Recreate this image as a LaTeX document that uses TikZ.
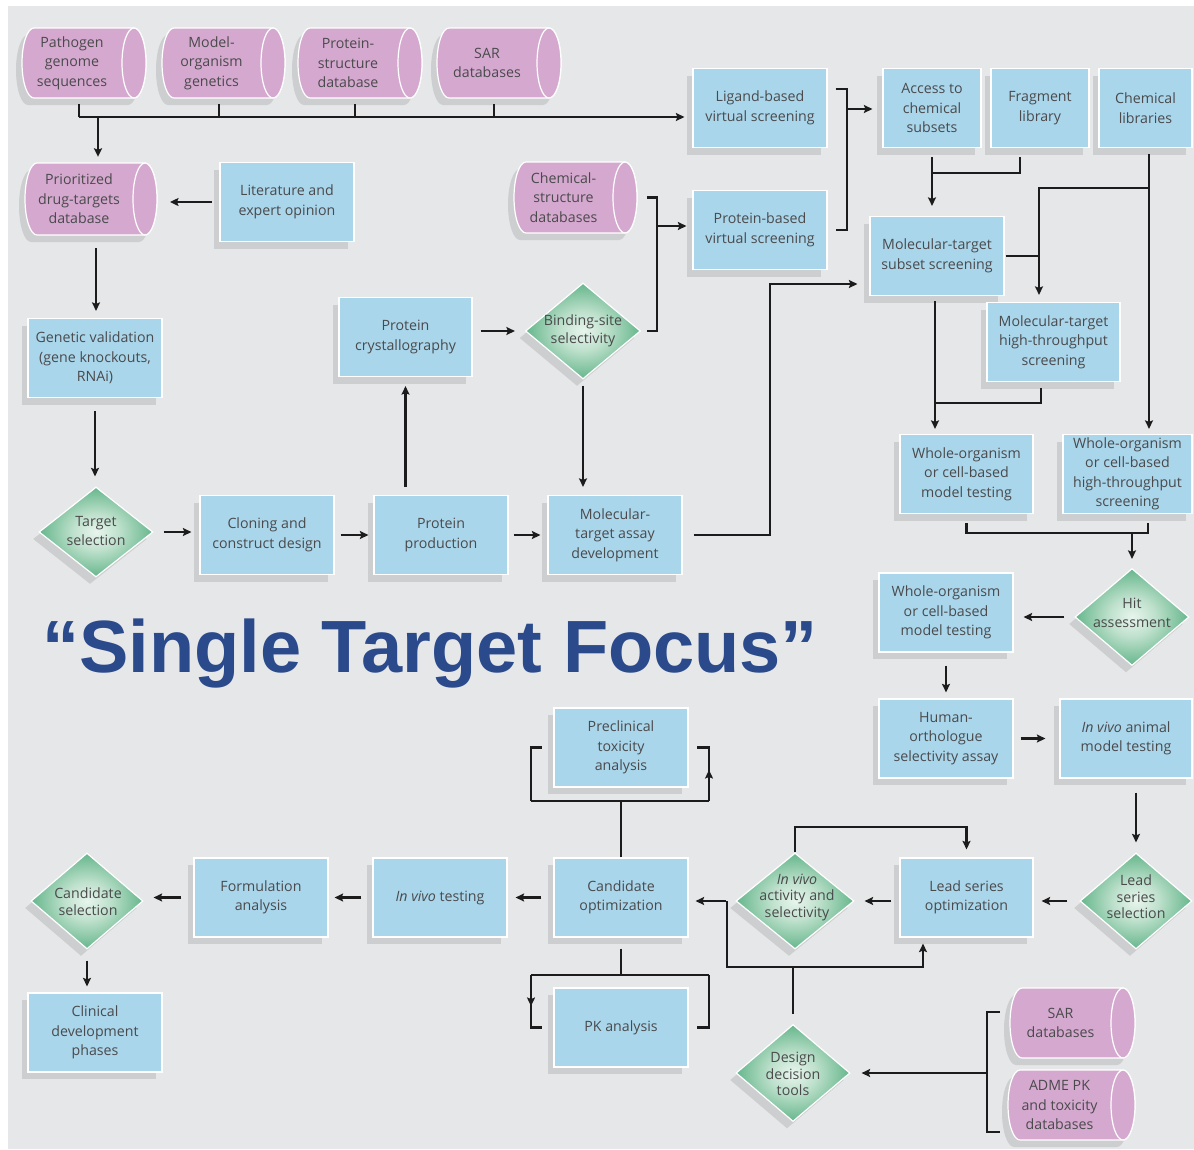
\documentclass[tikz,border=0pt]{standalone}
\usepackage{fontspec}
\setmainfont{Open Sans}
\newfontfamily\titlefont{Liberation Sans}
\usetikzlibrary{shapes.geometric,arrows.meta,shadows,calc}
\definecolor{bgc}{HTML}{E6E7E9}
\definecolor{boxc}{HTML}{AAD6EB}
\definecolor{cylc}{HTML}{D5A9CF}
\definecolor{shc}{HTML}{CDCED0}
\definecolor{txtc}{HTML}{4A4A4C}
\definecolor{linec}{HTML}{1C1C1C}
\definecolor{titlec}{HTML}{2A4A8C}
\definecolor{dg0}{HTML}{E8F5ED}
\definecolor{dg1}{HTML}{BFE1CD}
\definecolor{dg2}{HTML}{2A9A60}
\definecolor{dg3}{HTML}{1D8F55}
\pgfdeclareradialshading{diashade}{\pgfpoint{0bp}{0bp}}{color(0bp)=(dg0); color(10bp)=(dg1); color(35bp)=(dg2); color(50bp)=(dg3)}
\newcommand{\boxfont}{\fontsize{14.2}{19.5}\selectfont}
\newcommand{\difont}{\fontsize{14.2}{18.5}\selectfont}
\newcommand{\difontb}{\fontsize{14.2}{16.5}\selectfont}
\newcommand{\dbcyl}[6]{%
  \pgfmathsetmacro{\ca}{#2+12}%
  \pgfmathsetmacro{\cb}{#4-12}%
  \pgfmathsetmacro{\cyc}{(#3+#5)/2}%
  \pgfmathsetmacro{\cry}{(#5-#3)/2}%
  \pgfmathsetmacro{\cw}{#4-#2-24}%
  \pgfmathsetmacro{\cmid}{(#2+#4)/2-12}%
  \pgfmathsetmacro{\ch}{#5-#3}%
  \pgfmathsetmacro{\cs}{#2+57}%
  \begin{scope}[shift={(-6,7)}]
    \fill[shc] (\ca,#3) -- (\cb,#3) arc[start angle=-90,end angle=90,x radius=12,y radius=\cry] -- (\ca,#5) arc[start angle=90,end angle=270,x radius=12,y radius=\cry] -- cycle;
  \end{scope}
  \path[cylfill] (\ca,#3) -- (\cb,#3) arc[start angle=-90,end angle=90,x radius=12,y radius=\cry] -- (\ca,#5) arc[start angle=90,end angle=270,x radius=12,y radius=\cry] -- cycle;
  \path[cylfill] (\cb,\cyc) ellipse[x radius=12,y radius=\cry];
  \node[cyltext, minimum width=\cw, minimum height=\ch] (#1) at (\cmid,\cyc) {#6};
  \coordinate (#1-e) at (#4,\cyc);
  \coordinate (#1-w) at (#2,\cyc);
  \coordinate (#1-s) at (\cs,#5);
}
\begin{document}
\begin{tikzpicture}[x=1pt,y=-1pt,
  ln/.style={draw=linec, line width=2.2pt},
  arr/.style={ln, -{Stealth[length=8.5pt,width=8pt,inset=1.5pt]}},
  box/.style={rectangle, fill=boxc, draw=white, line width=1.2pt, minimum width=134pt, minimum height=79pt, inner sep=1pt, align=center, text=txtc, font=\boxfont, general shadow={fill=shc, shadow xshift=-6pt, shadow yshift=-7pt}},
  dia/.style={diamond, minimum width=114pt, minimum height=96pt, inner sep=0pt, draw=white, line width=1.2pt, shading=diashade, general shadow={fill=shc, shadow xshift=-6pt, shadow yshift=-7pt}},
  dtxt/.style={align=center, text=txtc, font=\difont, inner sep=0pt},
  cylfill/.style={fill=cylc, draw=white, line width=1.2pt},
  cyltext/.style={align=center, text=txtc, font=\boxfont, inner sep=0pt}]
\useasboundingbox (0,0) rectangle (1194,1149);
\fill[bgc] (8,6) rectangle (1194,1149);

% databases (cylinders)
\dbcyl{pathogen}{22}{28}{146}{98}{Pathogen\\genome\\sequences}
\dbcyl{model}{162}{28}{285}{98}{Model-\\organism\\genetics}
\dbcyl{pstruct}{298}{28}{422}{98}{Protein-\\structure\\database}
\dbcyl{sar1}{437}{28}{561}{98}{SAR\\databases}
\dbcyl{prior}{25}{163}{157}{235}{Prioritized\\drug-targets\\database}
\dbcyl{chemstruct}{514}{162}{637}{233}{Chemical-\\structure\\databases}
\dbcyl{sar2}{1010}{988}{1135}{1058}{SAR\\databases}
\dbcyl{adme}{1008}{1070}{1135}{1140}{ADME PK\\and toxicity\\databases}

% boxes
\node[box] (lit) at (287,202) {Literature and\\expert opinion};
\node[box] (genval) at (95,358) {Genetic validation\\(gene knockouts,\\RNAi)};
\node[box] (clon) at (267,535) {Cloning and\\construct design};
\node[box] (prod) at (441,535) {Protein\\production};
\node[box] (assay) at (615,535) {Molecular-\\target assay\\development};
\node[box, minimum width=133pt] (cryst) at (405.5,337) {Protein\\crystallography};
\node[box] (ligand) at (760,108) {Ligand-based\\virtual screening};
\node[box] (protvs) at (760,230) {Protein-based\\virtual screening};
\node[box, minimum width=98pt] (access) at (932,108) {Access to\\chemical\\subsets};
\node[box, minimum width=98pt] (frag) at (1040,108) {Fragment\\library};
\node[box, minimum width=93pt] (chemlib) at (1145.5,108) {Chemical\\libraries};
\node[box] (subset) at (937,256) {Molecular-target\\subset screening};
\node[box, minimum width=133pt] (mthts) at (1053.5,342) {Molecular-target\\high-throughput\\screening};
\node[box, minimum width=133pt] (wo1) at (966.5,474) {Whole-organism\\or cell-based\\model testing};
\node[box, minimum width=129pt] (wohts) at (1127.5,474) {Whole-organism\\or cell-based\\high-throughput\\screening};
\node[box] (wo2) at (946,612.5) {Whole-organism\\or cell-based\\model testing};
\node[box] (human) at (946,738.5) {Human-\\orthologue\\selectivity assay};
\node[box, minimum width=132pt] (ivanimal) at (1126,738.5) {\textit{In vivo} animal\\model testing};
\node[box, minimum width=133pt] (leadopt) at (966.5,897.5) {Lead series\\optimization};
\node[box] (candopt) at (621,897.5) {Candidate\\optimization};
\node[box] (precl) at (621,747.5) {Preclinical\\toxicity\\analysis};
\node[box] (pk) at (621,1027.5) {PK analysis};
\node[box] (ivtest) at (440,897.5) {\textit{In vivo} testing};
\node[box] (form) at (261,897.5) {Formulation\\analysis};
\node[box] (clin) at (95,1032.5) {Clinical\\development\\phases};

% diamonds
\node[dia, minimum width=114pt, minimum height=90pt] (tsel) at (96,532) {};
\node[dtxt] (tsel-t) at (96,531) {Target\\selection};
\node[dia, minimum width=115pt] (bind) at (583,331) {};
\node[dtxt] (bind-t) at (583,331) {Binding-site\\selectivity};
\node[dia, minimum height=97pt] (hit) at (1132,617) {};
\node[dtxt] (hit-t) at (1132,613) {Hit\\assessment};
\node[dia, minimum width=112pt] (leadsel) at (1136,901) {};
\node[dtxt, font=\difontb] (leadsel-t) at (1136,897) {Lead\\series\\selection};
\node[dia, minimum width=118pt] (ivact) at (795,901) {};
\node[dtxt, font=\difontb] (ivact-t) at (797,897) {\textit{In vivo}\\activity and\\selectivity};
\node[dia, minimum height=97pt] (design) at (793,1073) {};
\node[dtxt, font=\difontb] (design-t) at (793,1074) {Design\\decision\\tools};
\node[dia, minimum width=112pt] (candsel) at (87,901) {};
\node[dtxt, font=\fontsize{14.2}{17}\selectfont] (candsel-t) at (88,902) {Candidate\\selection};

% title
\node[anchor=base west, font=\titlefont\bfseries\fontsize{74}{80}\selectfont, text=titlec, inner sep=0pt] (title) at (42,672) {“Single Target Focus”};

% ---- connectors ----
\coordinate (bus) at (0,117);
\foreach \c in {pathogen,model,pstruct,sar1} \draw[ln] ([yshift=-6pt]\c-s) -- (\c-s |- bus);
\draw[arr, shorten >=8pt] (pathogen-s |- bus) -- (ligand.west |- bus);
\coordinate (priorx) at ([xshift=19pt]prior.north);
\draw[arr, shorten >=6pt] (priorx |- bus) -- (priorx);
\draw[arr, shorten <=7pt, shorten >=13pt] (lit.west) -- (lit.west -| prior-e);
\coordinate (priorx2) at ([xshift=17pt]prior.south);
\draw[arr, shorten <=13pt, shorten >=7pt] (priorx2) -- (priorx2 |- genval.north);
\draw[arr, shorten <=13pt, shorten >=10pt] (genval.south) -- (genval.south |- tsel.north);
\draw[arr, shorten <=10pt, shorten >=8pt] (tsel.east) -- (tsel.east -| clon.west);
\draw[arr, shorten <=6pt, shorten >=5pt] (clon) -- (prod);
\draw[arr, shorten <=5pt, shorten >=7pt] (prod) -- (assay);
\draw[arr, shorten <=8pt, shorten >=9pt] (cryst.south |- prod.north) -- (cryst.south);
\draw[arr, shorten <=8pt, shorten >=10pt] (bind.west -| cryst.east) -- (bind.west);
\draw[arr, shorten <=6pt, shorten >=8pt] (bind.south) -- (bind.south |- assay.north);
% binding-site / chemical-structure bracket
\coordinate (brk1) at (657,226);
\draw[ln] ([xshift=6pt]bind.east) -| (brk1) |- ([xshift=10pt]chemstruct-e);
\draw[arr, shorten >=6pt] (brk1) -- (brk1 -| protvs.west);
% ligand / protein-based bracket
\coordinate (brk2) at (847,109);
\draw[ln] ([xshift=8pt,yshift=19pt]ligand.east) -| (brk2) |- ([xshift=8pt]protvs.east);
\draw[arr, shorten >=10pt] (brk2) -- (brk2 -| access.west);
% chemical subsets and fragments
\coordinate (j1) at (0,173);
\draw[arr, shorten <=9pt, shorten >=10pt] (access.south) -- (access.south |- subset.north);
\draw[ln] ([xshift=-20pt,yshift=-9pt]frag.south) |- (access.south |- j1);
% chemical libraries
\coordinate (clx) at (1149,188);
\coordinate (j2) at (1039,0);
\draw[arr, shorten >=5pt] ([yshift=-6pt]chemlib.south -| clx) -- (clx |- wohts.north);
\draw[arr, shorten >=7pt] (clx) -| (j2 |- mthts.north);
\draw[ln] ([xshift=1pt]subset.east) -- (subset.east -| j2);
% subset to whole organism
\coordinate (sx) at ([xshift=-2pt]subset.south);
\coordinate (j3) at (0,403);
\draw[arr, shorten <=5pt, shorten >=5pt] (sx) -- (sx |- wo1.north);
\draw[ln] ([xshift=-12.5pt,yshift=-6pt]mthts.south) |- (sx |- j3);
% to hit assessment
\coordinate (j4) at (0,533);
\coordinate (wox) at ([xshift=20.5pt]wohts.south);
\draw[ln] ([yshift=-9pt]wo1.south) |- (wox |- j4) -- ([yshift=-9pt]wox);
\draw[arr, shorten >=9pt] (hit.north |- j4) -- (hit.north);
\draw[arr, shorten <=10pt, shorten >=10pt] (hit.west) -- (hit.west -| wo2.east);
\draw[arr, shorten <=13pt, shorten >=6pt] (wo2.south) -- (wo2.south |- human.north);
\draw[arr, shorten <=7pt, shorten >=14pt] (human) -- (ivanimal);
\draw[arr, shorten <=14pt, shorten >=10pt] (leadsel.north |- ivanimal.south) -- (leadsel.north);
\draw[arr, shorten <=12pt, shorten >=8pt] (leadsel.west) -- (leadsel.west -| leadopt.east);
\draw[arr, shorten <=8pt, shorten >=10pt] (leadopt.west |- ivact.east) -- (ivact.east);
\draw[arr, shorten <=9pt, shorten >=7pt] (ivact.west) -- (ivact.west -| candopt.east);
\coordinate (j5) at (0,827);
\draw[arr, shorten >=8pt] (ivact.north) -- (ivact.north |- j5) -| (leadopt.north);
% design decision tools
\coordinate (j6) at (0,967);
\coordinate (j7) at (727,901);
\draw[ln] ([yshift=10pt]design.north) -- (design.north |- j6);
\draw[ln] (design.north |- j6) -| (j7);
\draw[arr, shorten >=6pt] (design.north |- j6) -| ([xshift=-43.5pt]leadopt.south);
\coordinate (brk3) at (987,1073);
\draw[ln] ([xshift=-10pt,yshift=11pt]sar2-w) -| (brk3) |- ([xshift=-8pt,yshift=-27pt]adme-w);
\draw[arr, shorten >=11pt] (brk3) -- (design.east);
% candidate optimization loops
\coordinate (jL) at (531,0);
\coordinate (jR) at (709,0);
\coordinate (j8) at (0,801);
\coordinate (j9) at (0,975);
\draw[ln] (candopt.north) -- (candopt.north |- j8);
\draw[ln] (jL |- j8) -- (jR |- j8);
\draw[ln] (jL |- j8) |- ([xshift=-11pt]precl.west);
\draw[ln] (jR |- j8) |- ([xshift=8pt]precl.east);
\draw[arr] (jR |- j8) -- (jR |- 0,770);
\draw[ln] ([yshift=-11pt]candopt.south) -- (candopt.south |- j9);
\draw[ln] (jL |- j9) -- (jR |- j9);
\draw[ln] (jL |- j9) |- ([xshift=-11pt]pk.west);
\draw[ln] (jR |- j9) |- ([xshift=8pt]pk.east);
\draw[arr] (jL |- j9) -- (jL |- 0,1006);
% bottom-left chain
\draw[arr, shorten <=12pt, shorten >=8pt] (candopt.west) -- (ivtest.east);
\draw[arr, shorten <=11pt, shorten >=6pt] (ivtest.west) -- (form.east);
\draw[arr, shorten <=12pt, shorten >=10pt] (form.west) -- (form.west -| candsel.east);
\draw[arr, shorten <=11pt, shorten >=6pt] (candsel.south) -- (candsel.south |- clin.north);
% assay to subset screening
\coordinate (j10) at (770,284);
\draw[arr, shorten >=12pt] ([xshift=11pt]assay.east) -| (j10) -- (j10 -| subset.west);
\end{tikzpicture}
\end{document}
